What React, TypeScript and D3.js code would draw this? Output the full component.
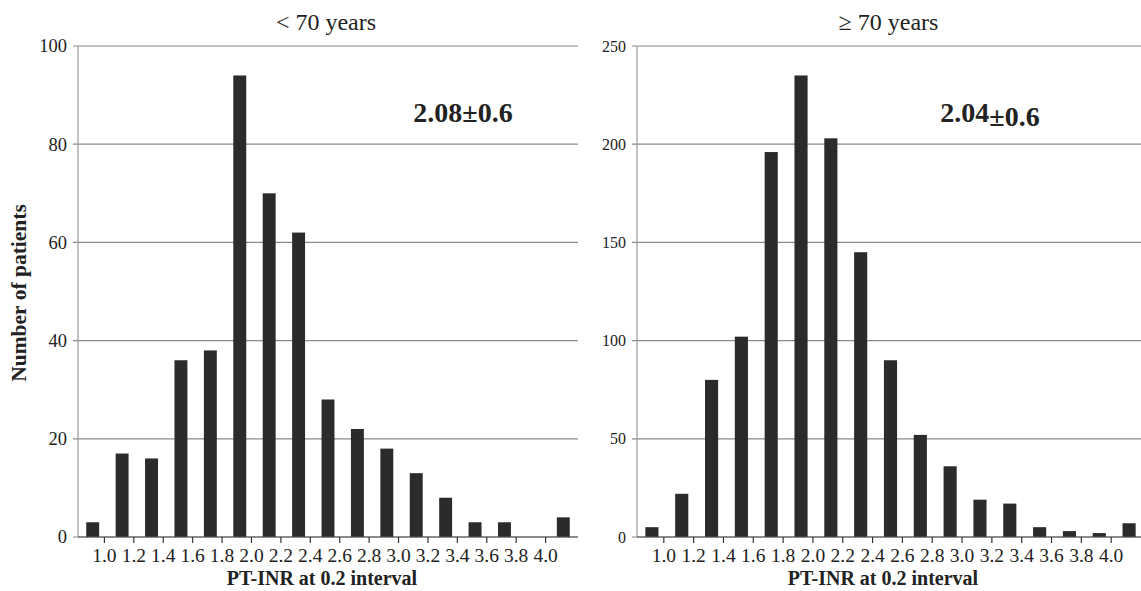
import React from "react";
import * as d3 from "d3";

const bins = ["<1.0","1.0-1.2","1.2-1.4","1.4-1.6","1.6-1.8","1.8-2.0","2.0-2.2","2.2-2.4","2.4-2.6","2.6-2.8","2.8-3.0","3.0-3.2","3.2-3.4","3.4-3.6","3.6-3.8","3.8-4.0",">4.0"];
const tickLabels = ["1.0","1.2","1.4","1.6","1.8","2.0","2.2","2.4","2.6","2.8","3.0","3.2","3.4","3.6","3.8","4.0"];
const under70 = [3,17,16,36,38,94,70,62,28,22,18,13,8,3,3,0,4];
const over70 = [5,22,80,102,196,235,203,145,90,52,36,19,17,5,3,2,7];
const under70Ticks = [0,20,40,60,80,100];
const over70Ticks = [0,50,100,150,200,250];

const FONT = "Liberation Serif, Times New Roman, Times, serif";

type PanelProps = {
  x0: number; x1: number; values: number[]; yMax: number; yTicks: number[];
  title: string; yTickSize: number; stat: React.ReactNode; statX: number;
};

function Panel({ x0, x1, values, yMax, yTicks, title, yTickSize, stat, statX }: PanelProps) {
  const top = 46, bottom = 537;
  const x = d3.scaleBand<string>().domain(bins).range([x0, x1]).paddingInner(0.56).paddingOuter(0.28);
  const step = x.step();
  const y = d3.scaleLinear().domain([0, yMax]).range([bottom, top]);
  const gridRight = Math.min(x1, 1141);
  const cx = (x0 + Math.min(x1, 1141)) / 2;
  return (
    <g>
      <text x={(x0 + x1) / 2 - 2} y={30} textAnchor="middle" fontSize={24} fontFamily={FONT} fill="#222">{title}</text>
      {yTicks.map((t) => (
        <g key={t}>
          <line x1={x0 - 5} x2={gridRight} y1={y(t)} y2={y(t)} stroke="#8a8a8a" strokeWidth={1.2} />
          <text x={x0 - 11} y={y(t)} dy="0.35em" textAnchor="end" fontSize={yTickSize} fontFamily={FONT} fill="#222">{t}</text>
        </g>
      ))}
      <line x1={x0} x2={x0} y1={top} y2={bottom} stroke="#9a9a9a" strokeWidth={1.2} />
      {values.map((v, i) => (
        <rect key={i} x={x(bins[i])!} width={x.bandwidth()} y={y(v)} height={bottom - y(v)} fill="#2b2b2b" />
      ))}
      <line x1={x0} x2={gridRight} y1={bottom} y2={bottom} stroke="#555" strokeWidth={1.2} />
      {tickLabels.map((t, i) => {
        const tx = x0 + step * (i + 1) - 3;
        return (
          <g key={t}>
            <line x1={tx} x2={tx} y1={bottom} y2={bottom + 6} stroke="#333" strokeWidth={1.2} />
            <text x={tx} y={562} textAnchor="middle" fontSize={19.5} fontFamily={FONT} fill="#222">{t}</text>
          </g>
        );
      })}
      <text x={cx - 6} y={585} textAnchor="middle" fontSize={20} fontWeight="bold" fontFamily={FONT} fill="#222">PT-INR at 0.2 interval</text>
      <text x={statX} y={122} textAnchor="middle" fontSize={28} fontWeight="bold" fontFamily={FONT} fill="#222">{stat}</text>
    </g>
  );
}

export default function App() {
  return (
    <svg width={1141} height={591} style={{ position: "absolute", left: 0, top: 0, background: "#fff" }}>
      <rect width={1141} height={591} fill="#fff" />
      <text transform="translate(26,293) rotate(-90)" textAnchor="middle" fontSize={21.5} fontWeight="bold" fontFamily={FONT} fill="#222">Number of patients</text>
      <Panel x0={78} x1={578} values={under70} yMax={100} yTicks={under70Ticks} title="< 70 years" yTickSize={18.5}
        stat={"2.08±0.6"} statX={463} />
      <Panel x0={637} x1={1144} values={over70} yMax={250} yTicks={over70Ticks} title="≥ 70 years" yTickSize={16}
        stat={<><tspan>2.04</tspan><tspan dy={4}>±0.6</tspan></>} statX={990} />
    </svg>
  );
}
